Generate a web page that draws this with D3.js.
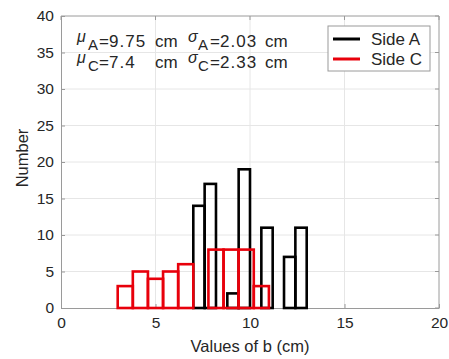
<!DOCTYPE html>
<html>
<head>
<meta charset="utf-8">
<script src="https://cdn.jsdelivr.net/npm/d3@7"></script>
<style>
  body { margin: 0; background: #fff; }
  text { font-family: "Liberation Sans", Arial, sans-serif; fill: #262626; }
</style>
</head>
<body>
<div id="chart"></div>
<script>
// bin edges and counts
var edgesA = [7, 7.6, 8.2, 8.8, 9.4, 10, 10.6, 11.2, 11.8, 12.4, 13];
var countsA = [14, 17, 0, 2, 19, 0, 11, 0, 7, 11];
var edgesC = [3, 3.8, 4.6, 5.4, 6.2, 7, 7.8, 8.6, 9.4, 10.2, 11];
var countsC = [3, 5, 4, 5, 6, 0, 8, 8, 8, 3];
var xTicks = [0, 5, 10, 15, 20];
var yTicks = [0, 5, 10, 15, 20, 25, 30, 35, 40];
var seriesNames = ["Side A", "Side C"];
var seriesColors = ["#000000", "#e8000b"];
var statSubs = ["A", "C"];
var statMeans = ["9.75", "7.4"];
var statSds = ["2.03", "2.33"];

var W = 449, H = 359;
var m = {l: 61, r: 10, t: 16, b: 51};

var svg = d3.select("#chart").append("svg")
	.attr("width", W).attr("height", H);

var x = d3.scaleLinear().domain([0, 20]).range([m.l, W - m.r]);
var y = d3.scaleLinear().domain([0, 40]).range([H - m.b, m.t]);

// grid
svg.append("g").selectAll("line").data(xTicks.slice(1, -1)).enter().append("line")
	.attr("x1", d => x(d)).attr("x2", d => x(d))
	.attr("y1", y(0)).attr("y2", y(40))
	.attr("stroke", "#e6e6e6").attr("stroke-width", 1);
svg.append("g").selectAll("line").data(yTicks.slice(1, -1)).enter().append("line")
	.attr("x1", x(0)).attr("x2", x(20))
	.attr("y1", d => y(d)).attr("y2", d => y(d))
	.attr("stroke", "#e6e6e6").attr("stroke-width", 1);

// axes
var xAxis = svg.append("g").attr("transform", "translate(0," + y(0) + ")")
	.call(d3.axisBottom(x).tickValues(xTicks).tickSizeInner(-4).tickSizeOuter(0).tickPadding(9));
var yAxis = svg.append("g").attr("transform", "translate(" + x(0) + ",0)")
	.call(d3.axisLeft(y).tickValues(yTicks).tickSizeInner(-4).tickSizeOuter(0).tickPadding(7));
[xAxis, yAxis].forEach(function(a) {
	a.select(".domain").attr("stroke", "#9a9a9a");
	a.selectAll(".tick line").attr("stroke", "#9a9a9a");
	a.selectAll(".tick text").style("font-size", "15.5px")
		.style("font-family", "'Liberation Sans', Arial, sans-serif").attr("fill", "#262626");
});
// top and right box lines, with their inward ticks
svg.append("line").attr("x1", x(0)).attr("x2", x(20)).attr("y1", y(40)).attr("y2", y(40)).attr("stroke", "#9a9a9a");
svg.append("line").attr("x1", x(20)).attr("x2", x(20)).attr("y1", y(0)).attr("y2", y(40)).attr("stroke", "#9a9a9a");
svg.append("g").selectAll("line").data(yTicks).enter().append("line")
	.attr("x1", x(20) - 4).attr("x2", x(20)).attr("y1", d => y(d)).attr("y2", d => y(d)).attr("stroke", "#9a9a9a");
svg.append("g").selectAll("line").data(xTicks).enter().append("line")
	.attr("x1", d => x(d)).attr("x2", d => x(d)).attr("y1", y(40)).attr("y2", y(40) + 4).attr("stroke", "#9a9a9a");

// histograms
function drawHist(edges, counts, color) {
	var bins = counts.map(function(c, i) { return {x0: edges[i], x1: edges[i + 1], n: c}; });
	svg.append("g").selectAll("rect").data(bins).enter().append("rect")
		.attr("x", d => x(d.x0))
		.attr("width", d => x(d.x1) - x(d.x0))
		.attr("y", d => y(d.n))
		.attr("height", d => y(0) - y(d.n))
		.attr("fill", "none")
		.attr("stroke", color)
		.attr("stroke-width", 2.6);
}
drawHist(edgesA, countsA, seriesColors[0]);
drawHist(edgesC, countsC, seriesColors[1]);

// axis labels
svg.append("text").attr("x", x(10)).attr("y", 352).attr("text-anchor", "middle")
	.style("font-size", "16.5px").text("Values of b (cm)");
svg.append("text").attr("transform", "translate(28," + (y(20) - 4) + ") rotate(-90)")
	.attr("text-anchor", "middle").style("font-size", "16.5px").text("Number");

// stats annotation
function piece(px, py, str, opts) {
	opts = opts || {};
	return svg.append("text").attr("x", px).attr("y", py)
		.style("font-size", (opts.size || 17) + "px")
		.style("font-style", opts.italic ? "italic" : "normal")
		.style("letter-spacing", (opts.ls || 0) + "px")
		.text(str);
}
statSubs.forEach(function(sub, i) {
	var by = 47 + i * 21;
	piece(77, by - 5, "\u03bc", {italic: true, size: 16});
	piece(88, by + 3, sub, {size: 15});
	piece(99, by, "=");
	piece(109, by, statMeans[i], {ls: 1});
	piece(155, by, "cm");
	piece(188, by - 5, "\u03c3", {italic: true, size: 16});
	piece(198, by + 3, sub, {size: 15});
	piece(210, by, "=");
	piece(220, by, statSds[i], {ls: 1});
	piece(265, by, "cm");
});

// legend
var lg = svg.append("g");
lg.append("rect").attr("x", 328).attr("y", 26).attr("width", 102).attr("height", 45)
	.attr("fill", "#fff").attr("stroke", "#9a9a9a");
seriesNames.forEach(function(n, i) {
	var ly = 39 + i * 20;
	lg.append("line").attr("x1", 333).attr("x2", 360).attr("y1", ly).attr("y2", ly)
		.attr("stroke", seriesColors[i]).attr("stroke-width", 3);
	lg.append("text").attr("x", 371).attr("y", ly + 6).style("font-size", "17px").text(n);
});
</script>
</body>
</html>
